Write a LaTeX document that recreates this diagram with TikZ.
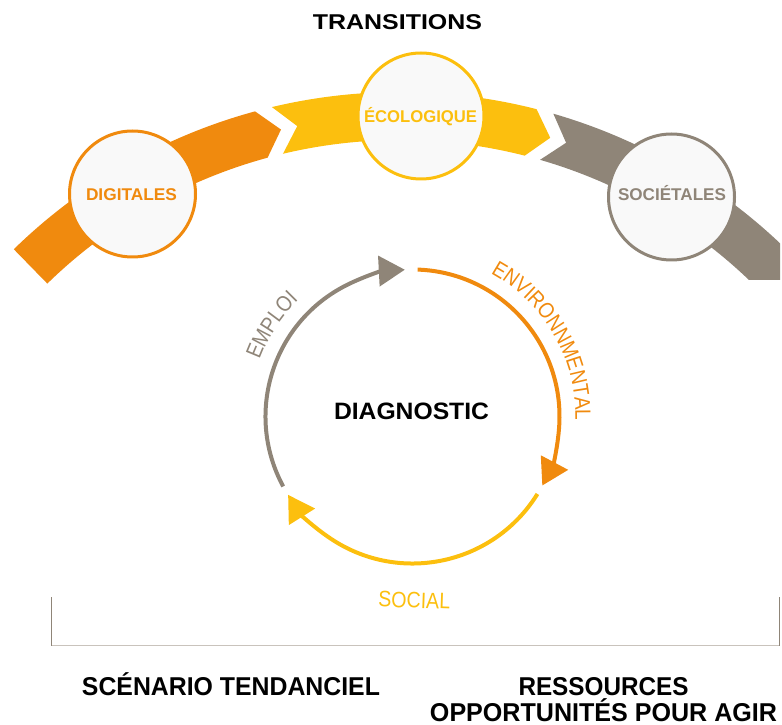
\documentclass[tikz,border=0pt]{standalone}
\usepackage{fontspec}
\setmainfont{Liberation Sans}
\newfontfamily\condfont[FakeStretch=0.87]{Liberation Sans}
\usetikzlibrary{arrows.meta,decorations.text}

\definecolor{orng}{HTML}{F08A0E}
\definecolor{yllw}{HTML}{FCBF0E}
\definecolor{taupe}{HTML}{8F8578}
\definecolor{disc}{HTML}{F9F9F9}
\definecolor{rulegray}{HTML}{C9C3BC}

% text scaled horizontally to a given width at a given font size
\newcommand\fitlabel[3]{\resizebox{#1pt}{\height}{\fontsize{#2}{#2}\selectfont #3}}

\begin{document}
\begin{tikzpicture}[x=1pt,y=1pt,
  stage/.style={circle, draw=#1, line width=3pt, fill=disc,
                minimum size=126pt, inner sep=0pt},
  cyclearc/.style={draw=#1, line width=4pt,
                   -{Triangle[length=26pt,width=30pt]}},
  lbl/.style={inner sep=0pt, anchor=base, text=#1}
]
\useasboundingbox (0,0) rectangle (782,724);

% ---- transitions band ----
\coordinate (hub) at (400,79);
\begin{scope}[shift={(hub)}]
  \fill[orng] (134.3:553) arc[start angle=134.3, end angle=105.2, radius=553]
     -- (103.0:529) -- (105.2:505)
     arc[start angle=105.2, end angle=134.3, radius=505] -- cycle;
  \fill[yllw] (103.4:553) arc[start angle=103.4, end angle=75.7, radius=553]
     -- (73.5:529) -- (75.7:505)
     arc[start angle=75.7, end angle=103.4, radius=505]
     -- (101.2:529) -- cycle;
\end{scope}
\begin{scope}
  \clip (0,444) rectangle (780,724);
  \begin{scope}[shift={(hub)}]
    \fill[taupe] (73.9:553) arc[start angle=73.9, end angle=30, radius=553]
       -- (30:505) arc[start angle=30, end angle=73.9, radius=505]
       -- (71.7:529) -- cycle;
  \end{scope}
\end{scope}

\node[stage=orng]  (dig) at (132.5,530) {};
\node[stage=yllw]  (eco) at (421,608)   {};
\node[stage=taupe] (soc) at (671.5,527) {};

\node[lbl=orng]  (digtxt) at (131.5,523)   {\fitlabel{91}{17}{\bfseries DIGITALES}};
\node[lbl=yllw]  (ecotxt) at (420.5,601.7) {\fitlabel{113}{17}{\bfseries ÉCOLOGIQUE}};
\node[lbl=taupe] (soctxt) at (672,523.3)   {\fitlabel{108}{17}{\bfseries SOCIÉTALES}};

\node[lbl=black] (title) at (397.5,694.7) {\fitlabel{169}{21.4}{\bfseries TRANSITIONS}};

% ---- diagnostic cycle ----
\coordinate (diag) at (412.5,307.5);
\begin{scope}[shift={(diag)}]
  \draw[cyclearc=orng]  (88:147)    arc[start angle=88,    end angle=-28,   radius=147];
  \draw[cyclearc=yllw]  (-31.8:147) arc[start angle=-31.8, end angle=-147.8, radius=147];
  \draw[cyclearc=taupe] (208.4:147) arc[start angle=208.4, end angle=93,    radius=147];

  \path[decorate, decoration={text along path, text align=center, text color=taupe,
        text={|\condfont\fontsize{22}{22}\selectfont|EMPLOI}}]
        (162:163) arc[start angle=162, end angle=132, radius=163];
  \path[decorate, decoration={text along path, text align=center, text color=orng,
        text={|\condfont\fontsize{22}{22}\selectfont|ENVIRONNMENTAL}}]
        (62:163) arc[start angle=62, end angle=-2, radius=163];
\end{scope}

\node[lbl=black] (diagtxt) at (411.5,305) {\fitlabel{155}{23.7}{\bfseries DIAGNOSTIC}};
\node[lbl=yllw, rotate=-2] (social) at (414,116) {\fitlabel{72}{22.3}{SOCIAL}};

% ---- bracket and outcomes ----
\coordinate (bl)  at (51.7,127);
\coordinate (blc) at (51.7,78.5);
\coordinate (brc) at (779,78.5);
\coordinate (br)  at (779,127);
\draw[taupe, line width=1pt] (bl) -- (blc);
\draw[taupe, line width=1pt] (brc) -- (br);
\draw[rulegray, line width=1.8pt] (blc) -- (brc);

\node[lbl=black] (trend) at (231,28.5)   {\fitlabel{298}{25.8}{\bfseries SCÉNARIO TENDANCIEL}};
\node[lbl=black] (res)   at (603.5,28.5) {\fitlabel{170}{25.8}{\bfseries RESSOURCES}};
\node[lbl=black] (opp)   at (603.5,3)    {\fitlabel{347}{25.8}{\bfseries OPPORTUNITÉS POUR AGIR}};
\end{tikzpicture}
\end{document}
